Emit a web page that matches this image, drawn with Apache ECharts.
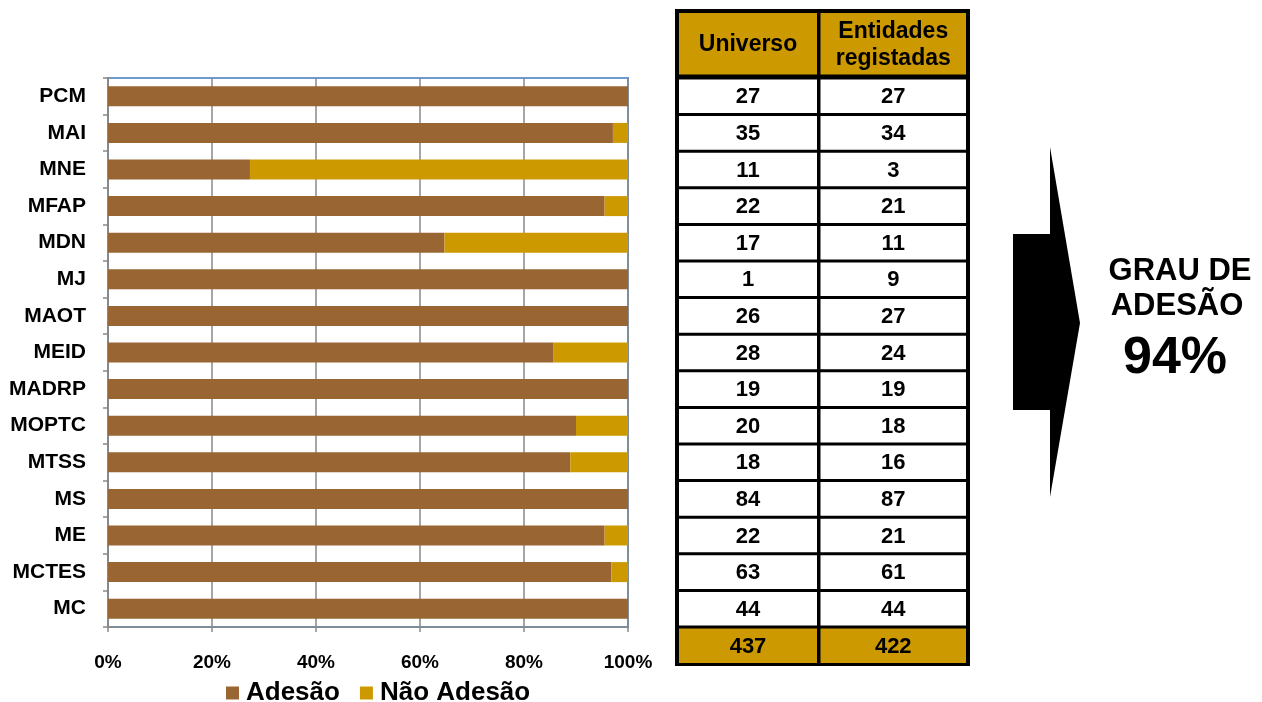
<!DOCTYPE html>
<html>
<head>
<meta charset="utf-8">
<script src="https://cdn.jsdelivr.net/npm/echarts@6/dist/echarts.min.js"></script>
<style>html,body{margin:0;padding:0;background:#fff}#c{width:1262px;height:702px}</style>
</head>
<body>
<div id="c"></div>
<script>
const categories = ['PCM','MAI','MNE','MFAP','MDN','MJ','MAOT','MEID','MADRP','MOPTC','MTSS','MS','ME','MCTES','MC'];
const adesao = [100, 97.1, 27.3, 95.5, 64.7, 100, 100, 85.7, 100, 90, 88.9, 100, 95.5, 96.8, 100];
const naoAdesao = [0, 2.9, 72.7, 4.5, 35.3, 0, 0, 14.3, 0, 10, 11.1, 0, 4.5, 3.2, 0];
const universo = [27, 35, 11, 22, 17, 1, 26, 28, 19, 20, 18, 84, 22, 63, 44];
const registadas = [27, 34, 3, 21, 11, 9, 27, 24, 19, 18, 16, 87, 21, 61, 44];
const totals = [437, 422];
const headers = ['Universo', 'Entidades\nregistadas'];
const grauLines = ['GRAU DE', 'ADESÃO'];
const grauValue = '94%';
const xTicks = [0, 20, 40, 60, 80, 100];

const FONT = 'Liberation Sans, Arial, sans-serif';
const BROWN = '#996633', GOLD = '#CC9900';
const gridTop = 78, gridBottomY = 627;
const band = (gridBottomY - gridTop) / categories.length;

const chart = echarts.init(document.getElementById('c'), null, {renderer: 'canvas'});

// table graphics
const g = [];
const tL = 675, tR = 970, tTop = 9, tBot = 666;
const c1 = [679, 817], c2 = [820.5, 966];
g.push({type: 'rect', shape: {x: tL, y: tTop, width: tR - tL, height: tBot - tTop}, style: {fill: '#000'}, z: 10});
function cellPair(y0, y1, fill, t1, t2, fs, lh) {
  [[c1, t1], [c2, t2]].forEach(([c, t]) => {
    g.push({type: 'rect', shape: {x: c[0], y: y0, width: c[1] - c[0], height: y1 - y0}, style: {fill: fill}, z: 11});
    g.push({type: 'text', x: (c[0] + c[1]) / 2, y: (y0 + y1) / 2 + 1, style: {text: String(t), fill: '#000', font: 'bold ' + fs + 'px ' + FONT, align: 'center', verticalAlign: 'middle', lineHeight: lh || fs + 2}, z: 12});
  });
}
cellPair(13, 74.5, GOLD, headers[0], headers[1], 23, 27);
for (let i = 0; i < categories.length; i++) {
  const y0 = gridTop + i * band + 1.5, y1 = gridTop + (i + 1) * band - 1.5;
  cellPair(y0, y1, '#fff', universo[i], registadas[i], 22);
}
cellPair(628.5, 663, GOLD, totals[0], totals[1], 22);

// arrow
g.push({type: 'polygon', shape: {points: [[1013, 234], [1050, 234], [1050, 147], [1080, 323], [1050, 497], [1050, 410], [1013, 410]]}, style: {fill: '#000'}, z: 10});
g.push({type: 'text', x: 1180, y: 271, style: {text: grauLines[0], fill: '#000', font: 'bold 31px ' + FONT, align: 'center', verticalAlign: 'middle'}, z: 12});
g.push({type: 'text', x: 1177, y: 306, style: {text: grauLines[1], fill: '#000', font: 'bold 31px ' + FONT, align: 'center', verticalAlign: 'middle'}, z: 12});
g.push({type: 'text', x: 1175, y: 359, style: {text: grauValue, fill: '#000', font: 'bold 52px ' + FONT, align: 'center', verticalAlign: 'middle'}, z: 12});

chart.setOption({
  animation: false,
  textStyle: {fontFamily: FONT},
  grid: {left: 108, right: 1262 - 628, top: gridTop, bottom: 702 - gridBottomY, show: true, borderColor: '#6F9AD0', borderWidth: 2, backgroundColor: 'transparent'},
  legend: {
    left: 226, top: 680, padding: 0, itemWidth: 13, itemHeight: 13, itemGap: 20,
    icon: 'rect',
    textStyle: {fontSize: 26, fontWeight: 'bold', color: '#000', fontFamily: FONT, padding: [0, 0, 0, 2]},
    data: ['Adesão', 'Não Adesão']
  },
  xAxis: {
    type: 'value', min: xTicks[0], max: xTicks[xTicks.length - 1], interval: 20,
    axisLine: {show: true, lineStyle: {color: '#888', width: 1.5}},
    axisTick: {show: true, length: 5, lineStyle: {color: '#888', width: 1.5}},
    splitLine: {show: true, lineStyle: {color: '#888', width: 1.5}},
    axisLabel: {formatter: '{value}%', margin: 26, fontSize: 19, fontWeight: 'bold', color: '#000', fontFamily: FONT}
  },
  yAxis: {
    type: 'category', data: categories, inverse: true,
    axisLine: {show: true, lineStyle: {color: '#888', width: 1.5}},
    axisTick: {show: true, length: 5, lineStyle: {color: '#888', width: 1.5}},
    axisLabel: {margin: 22, fontSize: 21, fontWeight: 'bold', color: '#000', fontFamily: FONT}
  },
  series: [
    {name: 'Adesão', type: 'bar', stack: 'a', data: adesao, barWidth: 20, itemStyle: {color: BROWN}},
    {name: 'Não Adesão', type: 'bar', stack: 'a', data: naoAdesao, barWidth: 20, itemStyle: {color: GOLD}}
  ],
  graphic: g
});
</script>
</body>
</html>
